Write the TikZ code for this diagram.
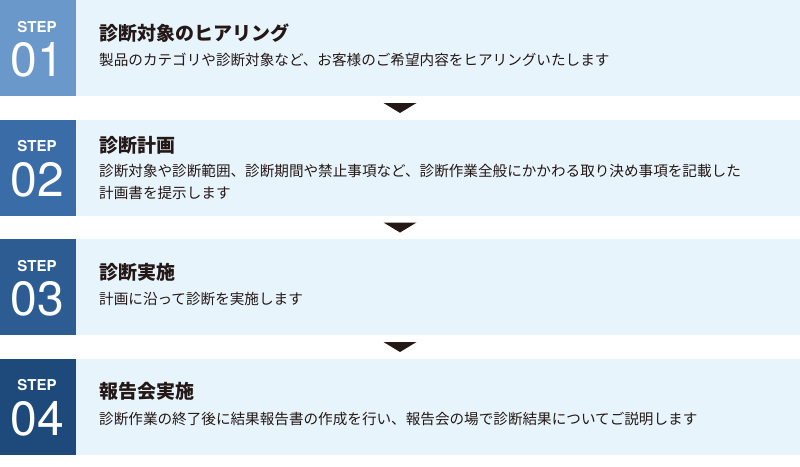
\documentclass[tikz,border=0pt]{standalone}
\usepackage{fontspec}
\newfontfamily\jpfont{Noto Sans CJK JP}
\newfontfamily\numfont{TeX Gyre Heros}
\definecolor{stepone}{HTML}{6A98CB}
\definecolor{steptwo}{HTML}{3A6DA8}
\definecolor{stepthree}{HTML}{2D5C92}
\definecolor{stepfour}{HTML}{1D4A7A}
\definecolor{rowbg}{HTML}{E8F4FC}
\definecolor{ink}{HTML}{231815}
\tikzset{
  steplabel/.style={text=white, font=\numfont\bfseries\fontsize{15}{15}\selectfont, inner sep=0},
  stepnum/.style={text=white, font=\numfont\fontsize{48}{48}\selectfont, inner sep=0},
  rowtitle/.style={anchor=west, text=ink, inner sep=0, font=\jpfont\bfseries\fontsize{19}{20}\selectfont},
  rowtext/.style={anchor=west, text=ink, inner sep=0, align=left, font=\jpfont\fontsize{14.6}{22}\selectfont}
}
\begin{document}
\begin{tikzpicture}[x=1pt, y=-1pt]
            \useasboundingbox (0,0) rectangle (800,466);

            % rows
            \fill[rowbg] (0,0) rectangle (800,96);
            \fill[rowbg] (0,119.5) rectangle (800,215.5);
            \fill[rowbg] (0,239) rectangle (800,335);
            \fill[rowbg] (0,358.5) rectangle (800,454.5);

            \fill[stepone] (0,0) rectangle (76,96);
            \fill[steptwo] (0,119.5) rectangle (76,215.5);
            \fill[stepthree] (0,239) rectangle (76,335);
            \fill[stepfour] (0,358.5) rectangle (76,454.5);

            % step numbers
            \node[steplabel] (s1) at (37,27) {STEP};
            \node[stepnum] (n1) at (37,60) {01};
            \node[steplabel] (s2) at (37,146.5) {STEP};
            \node[stepnum] (n2) at (37,179.5) {02};
            \node[steplabel] (s3) at (37,266) {STEP};
            \node[stepnum] (n3) at (37,299) {03};
            \node[steplabel] (s4) at (37,385.5) {STEP};
            \node[stepnum] (n4) at (37,418.5) {04};

            % titles and texts
            \node[rowtitle] (t1) at (99,33) {診断対象のヒアリング};
            \node[rowtext] (d1) at (99,60) {製品のカテゴリや診断対象など、お客様のご希望内容をヒアリングいたします};

            \node[rowtitle] (t2) at (99,145) {診断計画};
            \node[rowtext] (d2) at (99,182) {診断対象や診断範囲、診断期間や禁止事項など、診断作業全般にかかわる取り決め事項を記載した\\計画書を提示します};

            \node[rowtitle] (t3) at (99,272) {診断実施};
            \node[rowtext] (d3) at (99,299) {計画に沿って診断を実施します};

            \node[rowtitle] (t4) at (99,391.5) {報告会実施};
            \node[rowtext] (d4) at (99,418.5) {診断作業の終了後に結果報告書の作成を行い、報告会の場で診断結果についてご説明します};

            % arrows between rows
            \fill[ink] (383.5,103) -- (416.5,103) -- (400,113) -- cycle;
            \fill[ink] (383.5,222.5) -- (416.5,222.5) -- (400,232.5) -- cycle;
            \fill[ink] (383.5,342) -- (416.5,342) -- (400,352) -- cycle;
        \end{tikzpicture}
\end{document}
